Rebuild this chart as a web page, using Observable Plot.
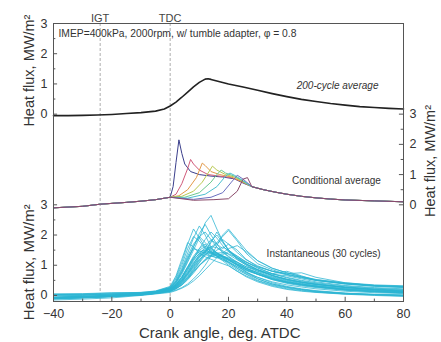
<!DOCTYPE html>
<html><head><meta charset="utf-8">
<script src="https://cdn.jsdelivr.net/npm/d3@7"></script>
<script src="https://cdn.jsdelivr.net/npm/@observablehq/plot@0.6"></script>
<style>body{margin:0;background:#fff;}</style>
</head><body><div id="chart"></div>
<script>
// Panel offsets (stacked panels share one y scale)
const offTop = 6, offMid = 3, offBot = 0;

// 200-cycle average (top panel)
const avgX = [-40,-35,-30,-25,-20,-15,-10,-5,-2,0,2,4,6,8,10,12,13,14,16,18,20,25,30,35,40,45,50,55,60,65,70,75,80];
const avgY = [-0.05,-0.05,-0.04,-0.03,-0.01,0.02,0.05,0.1,0.17,0.27,0.4,0.56,0.73,0.9,1.05,1.16,1.17,1.15,1.1,1.05,1.0,0.9,0.79,0.68,0.58,0.49,0.42,0.35,0.3,0.25,0.22,0.19,0.17];

// Conditional average (middle panel)
const condPreX = [-40,-30,-24,-15,-10,-5,0];
const condPreY = [-0.1,-0.05,0.02,0.08,0.12,0.17,0.25];
const condTailX = [28,32,36,40,45,50,55,60,70,80];
const condTailY = [0.6,0.5,0.42,0.35,0.28,0.23,0.19,0.16,0.13,0.1];
const condColors = ["#3b3f8c","#d05a7a","#e39a4a","#b8c850","#6cc890","#4bbfd0","#6a6fc0","#8a4a6a"];
const condMidX = [
  [1,2,3,4,5,7,10,14,18,22,25],
  [2,4,6,7,8,10,13,17,21,25],
  [3,6,9,11,12,14,17,21,25],
  [4,8,11,13,14.5,16,19,22,25],
  [5,10,14,16,17.5,19,22,25],
  [6,12,16,19,20.5,22,25],
  [8,14,18,21,23,25],
  [8,15,20,23,25,26.5]
];
const condMidY = [
  [0.6,1.4,2.15,1.7,1.35,1.1,1.0,0.95,0.92,0.86,0.72],
  [0.35,0.7,1.2,1.5,1.35,1.15,1.0,0.95,0.9,0.75],
  [0.3,0.5,0.9,1.38,1.3,1.1,1.0,0.92,0.75],
  [0.28,0.45,0.75,1.05,1.28,1.15,1.0,0.92,0.76],
  [0.25,0.4,0.75,1.0,1.15,1.05,0.95,0.78],
  [0.22,0.35,0.6,0.95,1.05,0.98,0.8],
  [0.18,0.25,0.4,0.75,0.98,0.85],
  [0.15,0.17,0.2,0.45,0.85,0.9]
];

// Instantaneous (30 cycles, bottom panel)
const instX = [-40,-30,-20,-10,-5,0,2,4,6,8,10,12,14,16,18,20,23,26,30,35,40,45,50,60,70,80];
const instCycles = [
 [-0.08,-0.06,-0.02,0.04,0.1,0.2,0.35,0.6,0.95,1.3,1.55,1.7,1.45,1.3,1.2,1.05,0.85,0.7,0.5,0.35,0.25,0.18,0.12,0.05,0.02,0.0],
 [0.02,0.0,0.03,0.06,0.12,0.25,0.5,0.9,1.4,1.9,2.3,2.0,1.6,1.4,1.25,1.1,0.95,0.82,0.7,0.55,0.45,0.38,0.32,0.22,0.16,0.12],
 [-0.1,-0.07,-0.03,0.03,0.08,0.15,0.25,0.4,0.6,0.85,1.1,1.4,1.75,2.1,1.8,1.5,1.2,1.0,0.8,0.62,0.5,0.42,0.36,0.27,0.21,0.17],
 [-0.06,-0.05,-0.01,0.05,0.11,0.22,0.4,0.7,1.1,1.5,1.9,2.4,2.65,2.2,1.8,1.5,1.25,1.05,0.85,0.65,0.52,0.44,0.37,0.28,0.22,0.18],
 [-0.12,-0.08,-0.04,0.02,0.07,0.14,0.22,0.35,0.55,0.8,1.0,1.15,1.3,1.35,1.3,1.2,1.0,0.78,0.55,0.38,0.27,0.2,0.14,0.07,0.03,0.01],
 [0.04,0.05,0.08,0.1,0.14,0.28,0.6,1.1,1.7,2.2,1.9,1.6,1.45,1.3,1.2,1.1,0.9,0.75,0.6,0.45,0.35,0.28,0.22,0.14,0.09,0.06],
 [-0.09,-0.06,-0.02,0.04,0.09,0.18,0.3,0.5,0.75,1.05,1.35,1.6,1.85,1.7,1.55,1.7,1.5,1.2,0.95,0.8,0.7,0.6,0.5,0.38,0.31,0.27],
 [-0.07,-0.05,-0.01,0.05,0.1,0.2,0.33,0.55,0.85,1.15,1.4,1.55,1.5,1.4,1.3,1.2,1.1,0.95,0.8,0.7,0.65,0.55,0.45,0.33,0.26,0.22],
 [-0.11,-0.08,-0.04,0.01,0.06,0.12,0.18,0.26,0.38,0.55,0.75,1.0,1.3,1.65,2.0,2.2,1.85,1.5,1.15,0.9,0.75,0.62,0.52,0.4,0.33,0.3],
 [0.02,0.03,0.06,0.08,0.13,0.26,0.55,1.0,1.55,1.95,1.8,1.55,1.4,1.3,1.15,1.0,0.8,0.62,0.45,0.3,0.2,0.14,0.1,0.04,0.0,-0.03],
 [-0.08,-0.06,-0.02,0.03,0.09,0.17,0.28,0.45,0.7,0.95,1.2,1.35,1.45,1.4,1.3,1.25,1.1,0.95,0.85,0.72,0.8,0.65,0.5,0.38,0.3,0.26],
 [-0.06,-0.04,0.0,0.06,0.12,0.23,0.42,0.75,1.15,1.6,2.05,2.35,2.0,1.7,1.45,1.3,1.1,0.9,0.7,0.52,0.4,0.32,0.26,0.17,0.12,0.09],
 [-0.1,-0.07,-0.03,0.02,0.07,0.14,0.23,0.36,0.55,0.78,1.0,1.2,1.35,1.5,1.6,1.5,1.3,1.12,0.92,0.72,0.58,0.48,0.4,0.28,0.2,0.15],
 [-0.07,-0.05,-0.01,0.05,0.1,0.19,0.32,0.52,0.8,1.1,1.3,1.42,1.38,1.3,1.22,1.12,0.95,0.78,0.6,0.42,0.3,0.22,0.16,0.08,0.04,0.02],
 [0.05,0.06,0.09,0.1,0.15,0.3,0.65,1.2,1.75,1.6,1.4,1.28,1.2,1.12,1.05,0.98,0.8,0.65,0.48,0.33,0.22,0.16,0.11,0.05,0.02,-0.02],
 [-0.09,-0.06,-0.03,0.03,0.08,0.16,0.26,0.42,0.62,0.88,1.15,1.45,1.8,2.0,1.75,1.5,1.25,1.05,0.85,0.66,0.53,0.44,0.37,0.26,0.19,0.14],
 [-0.06,-0.04,0.0,0.05,0.11,0.21,0.36,0.6,0.92,1.25,1.5,1.62,1.55,1.42,1.32,1.22,1.05,0.9,0.75,0.58,0.46,0.38,0.31,0.21,0.15,0.11],
 [-0.08,-0.05,-0.02,0.04,0.09,0.17,0.27,0.43,0.66,0.92,1.18,1.35,1.3,1.25,1.35,1.45,1.3,1.1,0.9,0.72,0.6,0.5,0.42,0.31,0.24,0.2],
 [0.01,0.02,0.04,0.07,0.13,0.25,0.48,0.85,1.3,1.7,1.95,1.75,1.55,1.4,1.28,1.16,1.0,0.85,0.7,0.54,0.43,0.35,0.29,0.19,0.13,0.1],
 [-0.15,-0.12,-0.08,0.0,0.05,0.1,0.16,0.24,0.34,0.48,0.65,0.85,1.05,1.25,1.4,1.55,1.65,1.45,1.15,0.9,0.75,0.63,0.53,0.42,0.35,0.32],
 [-0.07,-0.05,-0.01,0.05,0.1,0.2,0.34,0.56,0.86,1.2,1.55,1.85,2.1,1.9,1.65,1.45,1.22,1.04,0.85,0.67,0.54,0.45,0.37,0.26,0.19,0.14],
 [-0.06,-0.04,0.0,0.06,0.11,0.22,0.38,0.62,0.95,1.25,1.45,1.5,1.42,1.35,1.28,1.2,1.02,0.86,0.72,0.55,0.44,0.36,0.3,0.2,0.14,0.1],
 [-0.09,-0.07,-0.03,0.02,0.07,0.15,0.24,0.38,0.58,0.82,1.08,1.32,1.55,1.72,1.85,1.7,1.42,1.18,0.98,0.8,0.68,0.58,0.5,0.39,0.32,0.28],
 [0.03,0.02,0.05,0.08,0.12,0.24,0.45,0.8,1.25,1.55,1.48,1.4,1.32,1.25,1.17,1.09,0.9,0.72,0.55,0.38,0.28,0.2,0.14,0.07,0.03,0.0],
 [-0.08,-0.06,-0.02,0.04,0.09,0.18,0.3,0.48,0.72,1.0,1.28,1.5,1.62,1.58,1.48,1.36,1.18,1.02,0.84,0.66,0.53,0.44,0.37,0.26,0.19,0.14],
 [-0.07,-0.04,-0.01,0.05,0.1,0.19,0.31,0.5,0.76,1.05,1.32,1.48,1.44,1.36,1.28,1.18,1.0,0.85,0.7,0.53,0.42,0.34,0.28,0.18,0.12,0.08],
 [-0.1,-0.07,-0.03,0.02,0.07,0.14,0.22,0.34,0.52,0.74,0.98,1.18,1.32,1.4,1.42,1.38,1.25,1.1,0.95,0.8,0.72,0.75,0.6,0.42,0.33,0.29],
 [0.01,0.0,0.02,0.06,0.12,0.24,0.44,0.78,1.2,1.62,1.95,2.1,1.85,1.6,1.42,1.28,1.05,0.9,0.75,0.56,0.44,0.36,0.29,0.19,0.13,0.09],
 [-0.08,-0.05,-0.02,0.04,0.09,0.18,0.29,0.46,0.7,0.98,1.25,1.45,1.6,1.75,1.95,2.15,1.8,1.4,1.05,0.85,0.7,0.6,0.5,0.4,0.33,0.3],
 [-0.06,-0.04,0.0,0.06,0.11,0.21,0.37,0.6,0.9,1.2,1.38,1.45,1.4,1.33,1.25,1.16,1.03,0.9,0.76,0.6,0.48,0.4,0.33,0.23,0.17,0.13]
];

// Tick labels and markers
const xTicks = [-40,-20,0,20,40,60,80];
const xMinor = [-30,-10,10,30,50,70];
const yTickLabels = [0,1,2,3];
const refAngles = [-24, 0];
const refLabels = ["IGT","TDC"];

// Build tables
const avgRows = avgX.map((x,i)=>({x, y: avgY[i] + offTop}));
const condRows = [];
condColors.forEach((c,k)=>{
  const xs = condPreX.concat(condMidX[k], condTailX);
  const ys = condPreY.concat(condMidY[k], condTailY);
  xs.forEach((x,i)=>condRows.push({x, y: ys[i] + offMid, s: k, c}));
});
const instRows = [];
instCycles.forEach((cyc,k)=>cyc.forEach((v,i)=>instRows.push({x: instX[i], y: v + offBot, s: k})));

const leftTicks = yTickLabels.map(d=>d+offBot).concat(yTickLabels.map(d=>d+offTop));
const rightTicks = yTickLabels.map(d=>d+offMid);
const leftMinor = [0.5,1.5,2.5,6.5,7.5,8.5];
const rightMinor = [3.5,4.5,5.5];

const font = "Liberation Sans, Arial, sans-serif";
const chart = Plot.plot({
  width: 441, height: 342,
  marginLeft: 53, marginRight: 38, marginTop: 23, marginBottom: 41,
  x: {domain: [-40, 80]},
  y: {domain: [-0.2, 9]},
  color: {type: "identity"},
  style: {fontFamily: font, background: "white", color: "#333", overflow: "visible"},
  marks: [
    Plot.ruleX(refAngles, {stroke: "#999", strokeDasharray: "3,2", strokeWidth: 0.8}),
    Plot.line(instRows, {x: "x", y: "y", z: "s", stroke: "#2ab4d2", strokeWidth: 0.9, strokeOpacity: 0.85}),
    Plot.line(condRows, {x: "x", y: "y", z: "s", stroke: "c", strokeWidth: 1}),
    Plot.line(avgRows, {x: "x", y: "y", stroke: "#222", strokeWidth: 1.6}),
    Plot.frame({stroke: "#555", strokeWidth: 1}),
    // inward ticks
    Plot.ruleX(xTicks, {y1: -0.2, y2: -0.06, stroke: "#555"}),
    Plot.ruleX(xMinor, {y1: -0.2, y2: -0.12, stroke: "#555"}),
    Plot.ruleY(leftTicks, {x1: -40, x2: -38.6, stroke: "#555"}),
    Plot.ruleY(leftMinor, {x1: -40, x2: -39.2, stroke: "#555"}),
    Plot.ruleY(rightTicks, {x1: 78.6, x2: 80, stroke: "#555"}),
    Plot.ruleY(rightMinor, {x1: 79.2, x2: 80, stroke: "#555"}),
    Plot.axisX({ticks: xTicks, tickSize: 0, tickPadding: 8, label: null, fontSize: 12.5}),
    Plot.axisY({anchor: "left", ticks: leftTicks, tickSize: 0, tickPadding: 6, label: null, fontSize: 12.5, tickFormat: d => d >= offTop ? d - offTop : d - offBot}),
    Plot.axisY({anchor: "right", ticks: rightTicks, tickSize: 0, tickPadding: 6, label: null, fontSize: 12.5, tickFormat: d => d - offMid}),
    // axis titles
    Plot.text(["Heat flux, MW/m²"], {frameAnchor: "left", textAnchor: "middle", y: 7.44, dx: -24, rotate: -90, fontSize: 14.5, fill: "#333"}),
    Plot.text(["Heat flux, MW/m²"], {frameAnchor: "left", textAnchor: "middle", y: 1.1, dx: -24, rotate: -90, fontSize: 15, fill: "#333"}),
    Plot.text(["Heat flux, MW/m²"], {frameAnchor: "right", textAnchor: "middle", y: 4.45, dx: 27, rotate: -90, fontSize: 14.5, fill: "#333"}),
    Plot.text(["Crank angle, deg. ATDC"], {frameAnchor: "bottom", x: 17, dy: 36, fontSize: 15, fill: "#333"}),
    // reference labels
    Plot.text(refLabels, {x: refAngles, frameAnchor: "top", dy: -9, fontSize: 11, fill: "#444"}),
    // annotations
    Plot.text(["IMEP=400kPa, 2000rpm, w/ tumble adapter, φ = 0.8"], {x: -38.3, y: 8.67, textAnchor: "start", fontSize: 10.3, fill: "#333"}),
    Plot.text(["200-cycle average"], {x: 57.4, y: 6.95, fontSize: 10, fontStyle: "italic", fill: "#333"}),
    Plot.text(["Conditional average"], {x: 57, y: 3.8, fontSize: 10, fill: "#333"}),
    Plot.text(["Instantaneous (30 cycles)"], {x: 52.6, y: 1.39, fontSize: 10, fill: "#333"})
  ]
});
document.getElementById("chart").appendChild(chart);
</script>
</body></html>
